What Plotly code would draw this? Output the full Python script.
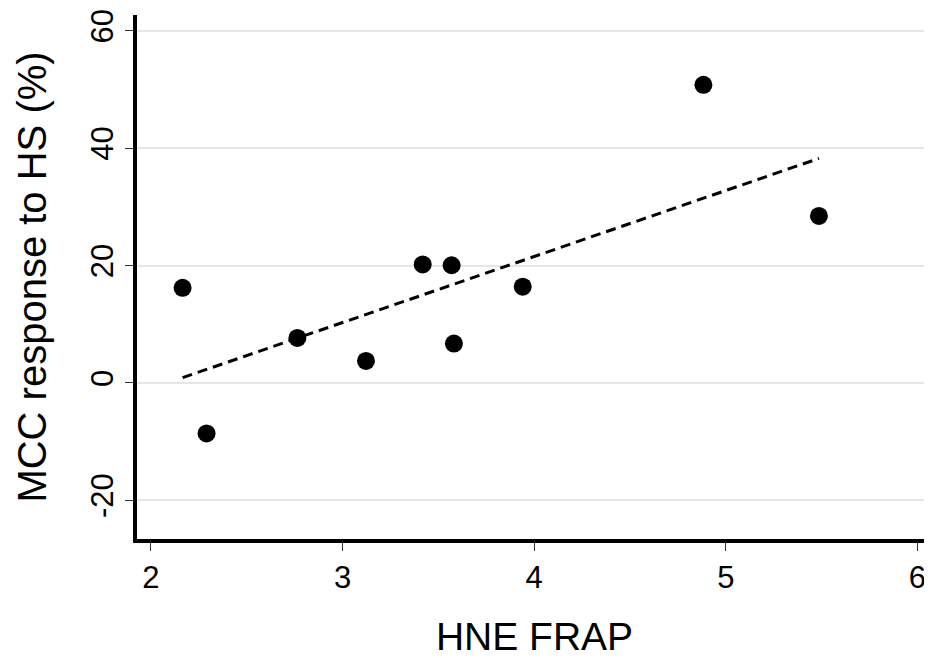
import numpy as np
import plotly.graph_objects as go

# Data
hne_frap = [2.165, 2.29, 2.764, 3.122, 3.418, 3.569, 3.581, 3.94, 4.883, 5.486]
mcc_response = [16.2, -8.6, 7.67, 3.75, 20.2, 20.05, 6.7, 16.4, 50.8, 28.45]

x_ticks = [2, 3, 4, 5, 6]
y_ticks = [-20, 0, 20, 40, 60]

x_title = "HNE FRAP"
y_title = "MCC response to HS (%)"

# Linear fit across the data range
slope, intercept = np.polyfit(hne_frap, mcc_response, 1)
fit_x = [min(hne_frap), max(hne_frap)]
fit_y = [slope * v + intercept for v in fit_x]

fig = go.Figure()
fig.add_trace(go.Scatter(
    x=fit_x, y=fit_y, mode="lines",
    line=dict(color="black", width=3, dash="10px,6px"),
    showlegend=False, hoverinfo="skip",
))
fig.add_trace(go.Scatter(
    x=hne_frap, y=mcc_response, mode="markers",
    marker=dict(color="black", size=18, line=dict(width=0)),
    showlegend=False,
))

font_family = "Liberation Sans, Arial, sans-serif"

fig.update_layout(
    width=924, height=650,
    margin=dict(l=129, r=0, t=7, b=119),
    paper_bgcolor="white", plot_bgcolor="white",
    font=dict(family=font_family, color="black"),
)
fig.update_xaxes(
    range=[1.927, 6.076],
    tickvals=x_ticks, ticktext=[str(v) for v in x_ticks],
    showgrid=False, zeroline=False, automargin=False,
    showline=True, linecolor="black", linewidth=4,
    ticks="outside", ticklen=8, tickwidth=1, tickcolor="#333333",
    tickfont=dict(size=31, family=font_family, color="black"),
    title=dict(text=x_title, font=dict(size=39, family=font_family, color="black"), standoff=30),
)
fig.update_yaxes(
    range=[-26.6, 62.7],
    tickvals=y_ticks, ticktext=[str(v) for v in y_ticks],
    tickangle=-90,
    showgrid=True, gridcolor="#e6e6e6", gridwidth=2,
    zeroline=False, automargin=False,
    showline=True, linecolor="black", linewidth=4,
    ticks="outside", ticklen=8, tickwidth=1, tickcolor="#333333",
    tickfont=dict(size=31, family=font_family, color="black"),
    title=dict(text=y_title, font=dict(size=40, family=font_family, color="black"), standoff=27),
)

fig.write_html("out.html")
